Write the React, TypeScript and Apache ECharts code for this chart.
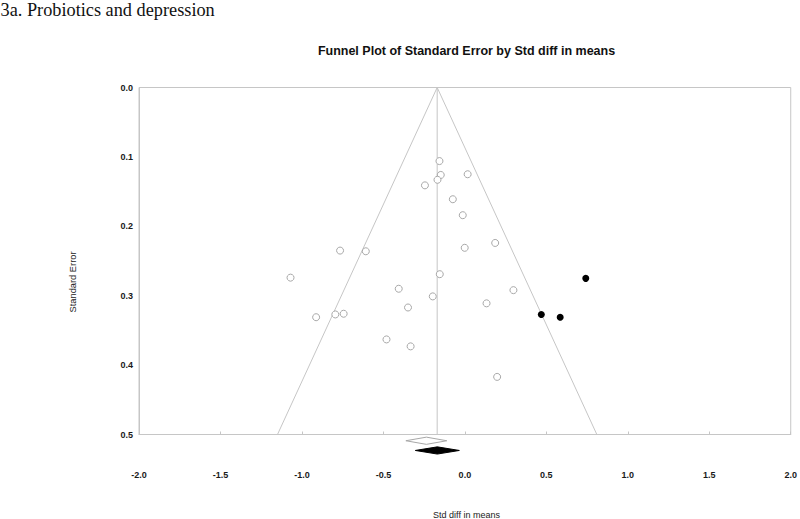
import React, { useEffect, useRef } from "react";
import * as echarts from "echarts";

// Observed studies: std diff in means (x) and standard error (y)
const studyEffect = [
  -0.156, -0.148, 0.017, -0.168, -0.245, -0.074, -0.013, 0.186, -0.001, -0.766,
  -0.608, -1.07, -0.154, -0.406, 0.298, -0.197, 0.133, -0.349, -0.913, -0.795,
  -0.744, -0.481, -0.333, 0.198,
];
const studySE = [
  0.106, 0.126, 0.125, 0.133, 0.141, 0.161, 0.184, 0.224, 0.231, 0.235,
  0.236, 0.274, 0.269, 0.29, 0.292, 0.301, 0.311, 0.317, 0.331, 0.327,
  0.326, 0.363, 0.373, 0.417,
];
// Imputed (trim and fill) studies
const filledEffect = [0.742, 0.469, 0.585];
const filledSE = [0.275, 0.327, 0.331];

// Funnel centre (adjusted estimate) and limits
const funnelCenter = -0.17;
const funnelZ = 1.96;
const seMax = 0.5;

// Summary diamonds: [lower, estimate, upper, vertical position]
const observedDiamond = [-0.362, -0.236, -0.111, 0.509];
const adjustedDiamond = [-0.304, -0.169, -0.034, 0.523];

const xTicks = { min: -2, max: 2, interval: 0.5 };
const yTicks = { min: 0, max: 0.5, interval: 0.1 };

const GRAY = "#c6c6c6";

export default function App() {
  const ref = useRef<HTMLDivElement>(null);
  useEffect(() => {
    if (!ref.current) return;
    const chart = echarts.init(ref.current, undefined, { renderer: "svg" });
    const diamondRender = (fill: string, stroke: string) => (params: any, api: any) => {
      const y = api.value(3);
      const l = api.coord([api.value(0), y]);
      const c = api.coord([api.value(1), y]);
      const u = api.coord([api.value(2), y]);
      const h = 3.6;
      return {
        type: "polygon",
        shape: {
          points: [
            [l[0], c[1]],
            [c[0], c[1] - h],
            [u[0], c[1]],
            [c[0], c[1] + h],
          ],
        },
        style: { fill, stroke, lineWidth: 1 },
      };
    };
    chart.setOption({
      animation: false,
      backgroundColor: "#ffffff",
      grid: {
        left: 139,
        right: 6,
        top: 87.5,
        bottom: 84.5,
        show: true,
        borderColor: GRAY,
        borderWidth: 1,
        backgroundColor: "transparent",
      },
      xAxis: {
        type: "value",
        min: xTicks.min,
        max: xTicks.max,
        interval: xTicks.interval,
        axisLine: { show: true, onZero: false, lineStyle: { color: GRAY, width: 1 } },
        axisTick: { show: true, inside: true, length: 3, lineStyle: { color: GRAY } },
        splitLine: { show: false },
        axisLabel: {
          margin: 36,
          fontFamily: "Liberation Sans, Arial, sans-serif",
          fontSize: 9,
          fontWeight: "bold",
          color: "#1a1a1a",
          formatter: (v: number) => v.toFixed(1),
        },
      },
      yAxis: {
        type: "value",
        inverse: true,
        min: yTicks.min,
        max: yTicks.max,
        interval: yTicks.interval,
        axisLine: { show: true, onZero: false, lineStyle: { color: GRAY, width: 1 } },
        axisTick: { show: false },
        splitLine: { show: false },
        axisLabel: {
          margin: 6,
          fontFamily: "Liberation Sans, Arial, sans-serif",
          fontSize: 9,
          fontWeight: "bold",
          color: "#1a1a1a",
          formatter: (v: number) => v.toFixed(1),
        },
      },
      graphic: [
        {
          type: "text",
          x: 0.5,
          y: 9.5,
          style: {
            text: "3a. Probiotics and depression",
            fontFamily: "Liberation Serif, Times New Roman, serif",
            fontSize: 18.3,
            fill: "#111",
            align: "left",
            verticalAlign: "middle",
          },
        },
        {
          type: "text",
          x: 466.5,
          y: 51,
          style: {
            text: "Funnel Plot of Standard Error by Std diff in means",
            fontFamily: "Liberation Sans, Arial, sans-serif",
            fontSize: 12.5,
            fontWeight: "bold",
            fill: "#111",
            align: "center",
            verticalAlign: "middle",
          },
        },
        {
          type: "text",
          x: 73,
          y: 282,
          rotation: Math.PI / 2,
          style: {
            text: "Standard Error",
            fontFamily: "Liberation Sans, Arial, sans-serif",
            fontSize: 9.3,
            fill: "#222",
            align: "center",
            verticalAlign: "middle",
          },
        },
        {
          type: "text",
          x: 466.5,
          y: 515,
          style: {
            text: "Std diff in means",
            fontFamily: "Liberation Sans, Arial, sans-serif",
            fontSize: 9,
            fill: "#222",
            align: "center",
            verticalAlign: "middle",
          },
        },
      ],
      series: [
        {
          type: "line",
          data: [
            [funnelCenter - funnelZ * seMax, seMax],
            [funnelCenter, 0],
            [funnelCenter + funnelZ * seMax, seMax],
          ],
          symbol: "none",
          lineStyle: { color: GRAY, width: 1 },
          z: 1,
        },
        {
          type: "line",
          data: [
            [funnelCenter, 0],
            [funnelCenter, seMax],
          ],
          symbol: "none",
          lineStyle: { color: GRAY, width: 1 },
          z: 1,
        },
        {
          type: "scatter",
          data: studyEffect.map((x, i) => [x, studySE[i]]),
          symbol: "circle",
          symbolSize: 7,
          itemStyle: { color: "#ffffff", borderColor: "#a8a8a8", borderWidth: 1, opacity: 1 },
          z: 3,
        },
        {
          type: "scatter",
          data: filledEffect.map((x, i) => [x, filledSE[i]]),
          symbol: "circle",
          symbolSize: 7,
          itemStyle: { color: "#000000", opacity: 1 },
          z: 4,
        },
        {
          type: "custom",
          clip: false,
          data: [observedDiamond],
          encode: { x: [0, 1, 2], y: 3 },
          renderItem: diamondRender("#ffffff", "#a8a8a8"),
          z: 5,
        },
        {
          type: "custom",
          clip: false,
          data: [adjustedDiamond],
          encode: { x: [0, 1, 2], y: 3 },
          renderItem: diamondRender("#000000", "#000000"),
          z: 5,
        },
      ],
    });
    return () => chart.dispose();
  }, []);
  return (
    <div
      ref={ref}
      style={{ position: "fixed", left: 0, top: 0, width: 800, height: 519 }}
    />
  );
}
